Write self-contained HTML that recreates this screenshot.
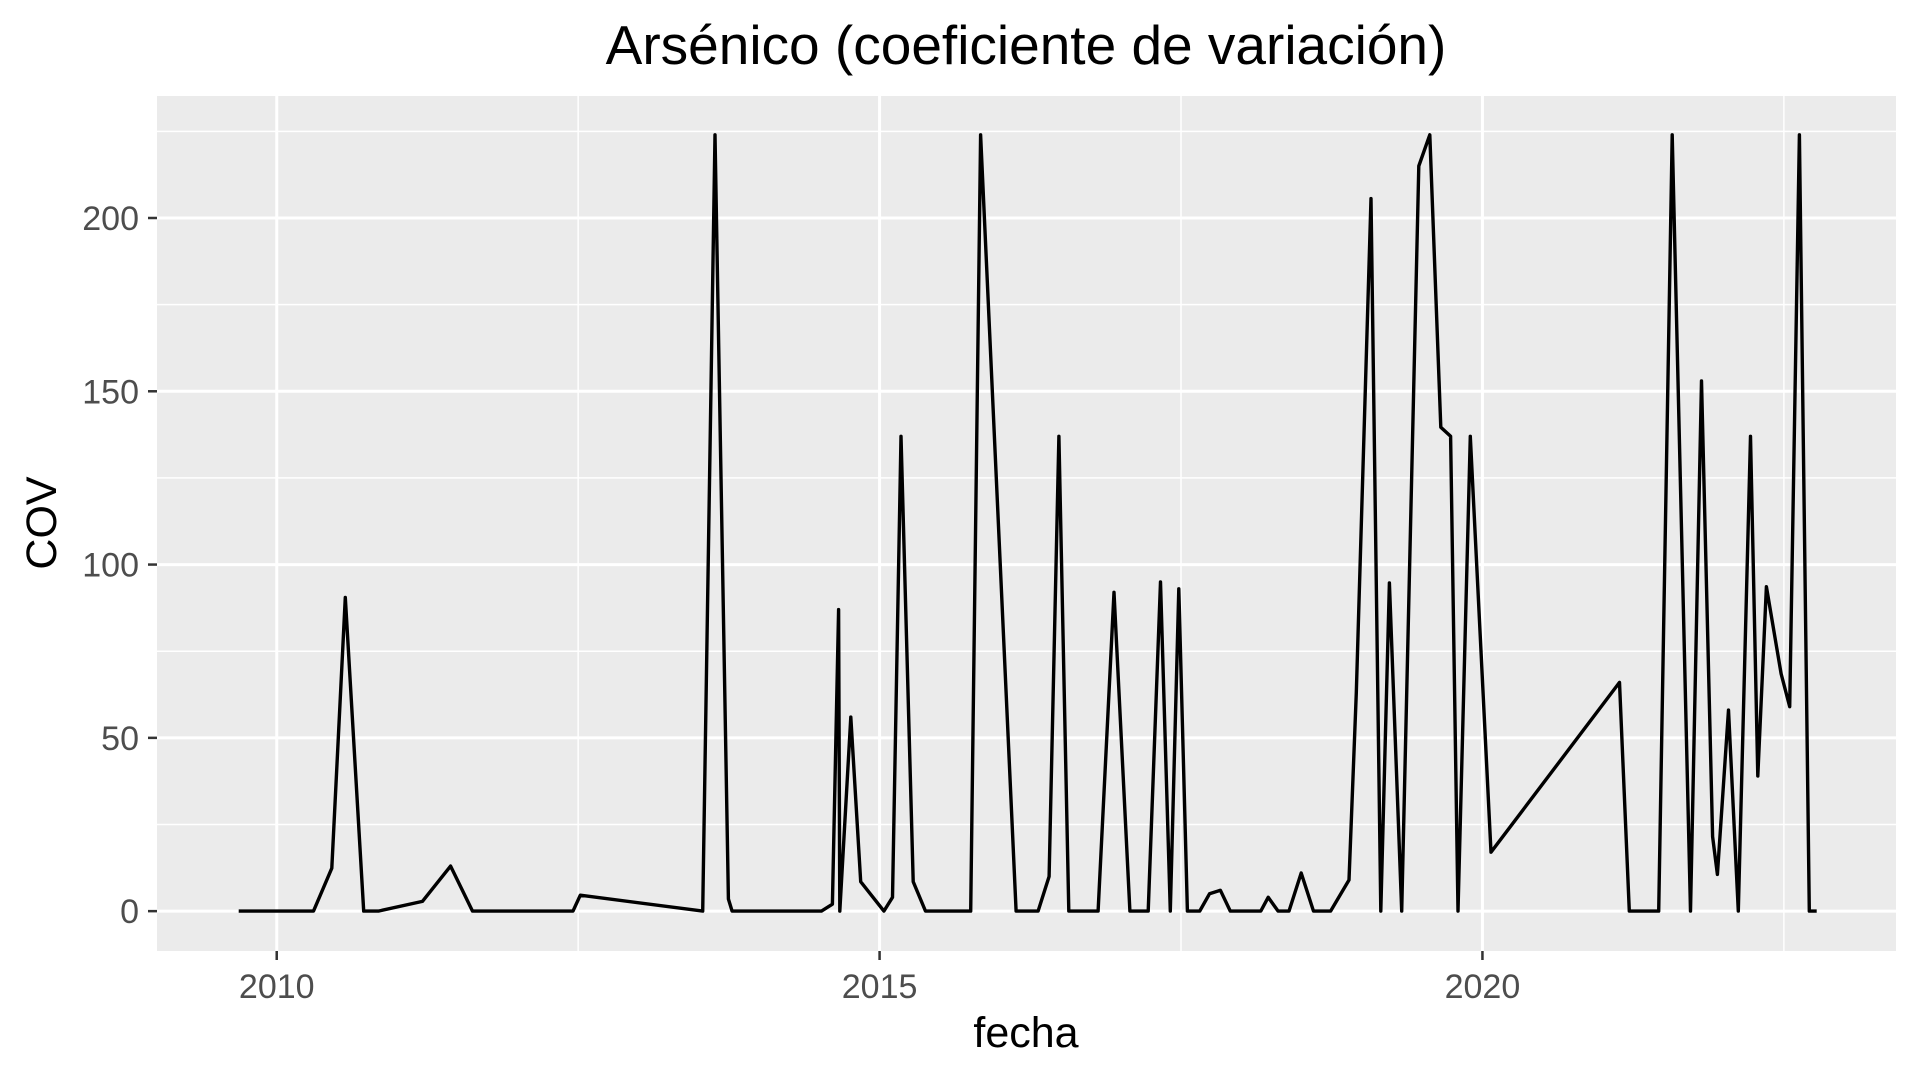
<!DOCTYPE html>
<html><head><meta charset="utf-8"><style>
html,body{margin:0;padding:0;background:#fff;}
svg{display:block;font-family:"Liberation Sans",Arial,sans-serif;}
</style></head><body>
<svg id="chart" width="1920" height="1080" viewBox="0 0 1920 1080">
<rect x="0" y="0" width="1920" height="1080" fill="#fff"/>
<text x="1026" y="64" font-size="55" text-anchor="middle" fill="#000">Arsénico (coeficiente de variación)</text>
<rect x="157" y="96" width="1739" height="855" fill="#EBEBEB"/>
<g id="grid"></g>
<g id="axes"></g>
<path id="series" fill="none" stroke="#000" stroke-width="3.4" stroke-linejoin="round"/>
<text x="1026" y="1047" font-size="43" text-anchor="middle" fill="#000">fecha</text>
<text transform="translate(56,523) rotate(-90)" font-size="43" text-anchor="middle" fill="#000">COV</text>
</svg>
<script>
const dates = [2009.685,2010.305,2010.457,2010.569,2010.721,2010.843,2011.208,2011.442,2011.624,2012.457,2012.518,2013.533,2013.635,2013.746,2013.777,2014.518,2014.609,2014.660,2014.670,2014.761,2014.843,2015.036,2015.107,2015.178,2015.279,2015.381,2015.756,2015.838,2016.132,2016.315,2016.406,2016.487,2016.569,2016.812,2016.944,2017.076,2017.228,2017.330,2017.411,2017.482,2017.553,2017.655,2017.736,2017.827,2017.909,2018.162,2018.223,2018.305,2018.396,2018.497,2018.599,2018.741,2018.893,2018.954,2019.076,2019.157,2019.228,2019.330,2019.472,2019.563,2019.655,2019.736,2019.797,2019.899,2020.071,2021.137,2021.218,2021.462,2021.574,2021.726,2021.817,2021.909,2021.949,2022.041,2022.122,2022.223,2022.284,2022.355,2022.477,2022.548,2022.629,2022.711,2022.772];
const covValues = [0,0,12.4,90.5,0,0,2.8,13,0,0,4.6,0,224,3.5,0,0,2,87,0,56,8.5,0,4,137,8.5,0,0,224,0,0,10,137,0,0,92,0,0,95,0,93,0,0,5,6,0,0,4,0,0,11,0,0,9,63,205.6,0,94.7,0,215,224,139.6,137,0,137,17,66,0,0,224,0,153,21.5,10.6,58,0,137,39,93.6,68.5,59,224,0,0];
const yTicks = [0,50,100,150,200];
const yMinor = [25,75,125,175,225];
const xTicks = [2010,2015,2020];
const xMinor = [2012.5,2017.5,2022.5];

const X0=157,X1=1896,Y0=96,Y1=951;
const xMin=2009.007,xMax=2023.43,yMin=-11.5,yMax=235.2;
const sx=v=>X0+(v-xMin)/(xMax-xMin)*(X1-X0);
const sy=v=>Y1-(v-yMin)/(yMax-yMin)*(Y1-Y0);
const NS='http://www.w3.org/2000/svg';
const grid=document.getElementById('grid'), axes=document.getElementById('axes');
function line(p,x1,y1,x2,y2,stroke,w){const l=document.createElementNS(NS,'line');l.setAttribute('x1',x1);l.setAttribute('y1',y1);l.setAttribute('x2',x2);l.setAttribute('y2',y2);l.setAttribute('stroke',stroke);l.setAttribute('stroke-width',w);p.appendChild(l);return l;}
function text(p,x,y,s,anchor){const t=document.createElementNS(NS,'text');t.setAttribute('x',x);t.setAttribute('y',y);t.setAttribute('font-size','34');t.setAttribute('fill','#4D4D4D');t.setAttribute('text-anchor',anchor);t.textContent=s;p.appendChild(t);return t;}
yMinor.forEach(v=>{const l=line(grid,X0,sy(v),X1,sy(v),'#fff',1.5);

});
xMinor.forEach(v=>{const l=line(grid,sx(v),Y0,sx(v),Y1,'#fff',1.5);

});
yTicks.forEach(v=>{const l=line(grid,X0,sy(v),X1,sy(v),'#fff',3);


const t=line(axes,X0-9,sy(v),X0,sy(v),'#333',2.5);


const lb=text(axes,X0-18,sy(v)+12,String(v),'end');

});
xTicks.forEach(v=>{const l=line(grid,sx(v),Y0,sx(v),Y1,'#fff',3);


const t=line(axes,sx(v),Y1,sx(v),Y1+9,'#333',2.5);


const lb=text(axes,sx(v),998,String(v),'middle');

});
document.getElementById('series').setAttribute('d',dates.map((d,i)=>(i?'L':'M')+sx(d).toFixed(1)+' '+sy(covValues[i]).toFixed(1)).join(' '));
</script>
</body></html>
